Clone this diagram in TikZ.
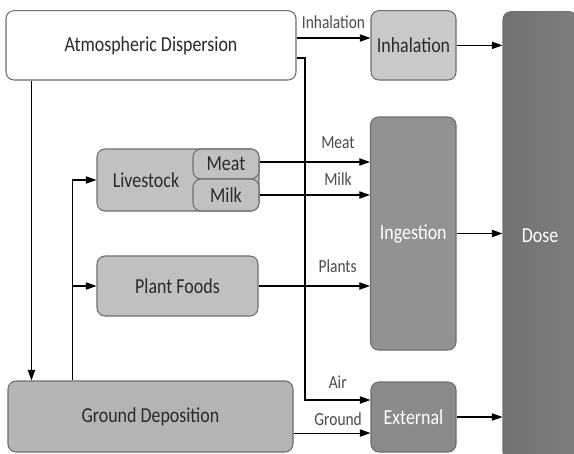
\documentclass[tikz,border=0pt]{standalone}
\usepackage{fontspec}
\setmainfont[FakeStretch=0.84]{Carlito}
\usetikzlibrary{arrows.meta,calc}
\definecolor{bordc}{HTML}{6E6E6E}
\definecolor{txtd}{HTML}{2A2A2A}
\definecolor{lblc}{HTML}{4A4A4A}
\definecolor{cInh}{HTML}{C9C9C9}
\definecolor{cLive}{HTML}{C1C1C1}
\definecolor{cPlant}{HTML}{C0C0C0}
\definecolor{cGD}{HTML}{B4B4B4}
\definecolor{cIng}{HTML}{929292}
\definecolor{cExt}{HTML}{8A8A8A}
\definecolor{cDoseA}{HTML}{727272}
\definecolor{cDoseB}{HTML}{7E7E7E}
\begin{document}
\begin{tikzpicture}[x=0.75pt,y=-0.75pt,
  box/.style={draw=bordc,line width=0.8pt,rounded corners=6pt,inner sep=0pt,
     font=\fontsize{16}{18}\selectfont,text=txtd},
  dbox/.style={box,text=white},
  arr/.style={draw=black,line width=0.8pt,-{Triangle[length=8pt,width=5.5pt]}},
  lbl/.style={font=\fontsize{13.8}{15}\selectfont,text=lblc,inner sep=0pt}]
\useasboundingbox (0,0) rectangle (574,453);
% nodes
\node[box,fill=white,minimum width={290*0.75pt},minimum height={69.3*0.75pt}] (atm) at (151,45.35) {Atmospheric Dispersion};
\node[box,fill=cInh,minimum width={85*0.75pt},minimum height={69.3*0.75pt}] (inh) at (413.5,45.35) {Inhalation};
\node[dbox,left color=cDoseA,right color=cDoseB,minimum width={74*0.75pt},minimum height={448.3*0.75pt}] (dose) at (540,235.85) {Dose};
\node[dbox,fill=cIng,minimum width={85.5*0.75pt},minimum height={233*0.75pt}] (ing) at (413.25,233.5) {Ingestion};
\node[dbox,fill=cExt,minimum width={85*0.75pt},minimum height={70*0.75pt}] (ext) at (413.5,417) {External};
\node[box,fill=cGD,minimum width={285*0.75pt},minimum height={71*0.75pt}] (gd) at (150.5,416.5) {Ground Deposition};
\node[box,fill=cLive,minimum width={162*0.75pt},minimum height={62*0.75pt}] (live) at (178,180) {Livestock\hspace*{48pt}};
\node[box,fill=cLive,minimum width={66*0.75pt},minimum height={30*0.75pt}] (meat) at (226,164) {Meat};
\node[box,fill=cLive,minimum width={66*0.75pt},minimum height={32*0.75pt}] (milk) at (226,195) {Milk};
\node[box,fill=cPlant,minimum width={161*0.75pt},minimum height={60*0.75pt}] (plant) at (177.5,286) {Plant Foods};
% connectors
\draw[arr] ([yshift=5.5pt]atm.east) -- ([yshift=5.5pt]inh.west) node[lbl,midway,above=7.5pt,anchor=base] {Inhalation};
\draw[arr] (inh.east) -- (inh.east -| dose.west);
\draw[arr] ([xshift=19.5pt]atm.south west) coordinate (a1) -- (a1 |- gd.north);
\coordinate (airbend) at (305,400);
\draw[arr] ([yshift=-9.5pt]atm.east) -| (airbend) -- (airbend -| ext.west) node[lbl,pos=0.5,above=9pt,anchor=base] {Air};
\draw[arr] ([xshift=48.75pt]gd.north west) |- (live.west);
\coordinate (br) at (73,286);
\draw[arr] (br) -- (plant.west);
\draw[arr] ([yshift=1.5pt]meat.east) coordinate (m1) -- (m1 -| ing.west) node[lbl,pos=0.71,above=10.5pt,anchor=base] {Meat};
\draw[arr] (milk.east) -- (milk.east -| ing.west) node[lbl,pos=0.71,above=7.5pt,anchor=base] {Milk};
\draw[arr] (plant.east) -- (plant.east -| ing.west) node[lbl,pos=0.71,above=10.5pt,anchor=base] {Plants};
\draw[arr] (ing.east) -- (ing.east -| dose.west);
\draw[arr] ([yshift=-12.4pt]gd.east) coordinate (g1) -- (g1 -| ext.west) node[lbl,pos=0.58,above=6pt,anchor=base] {Ground};
\draw[arr] (ext.east) -- (ext.east -| dose.west);
\end{tikzpicture}
\end{document}
